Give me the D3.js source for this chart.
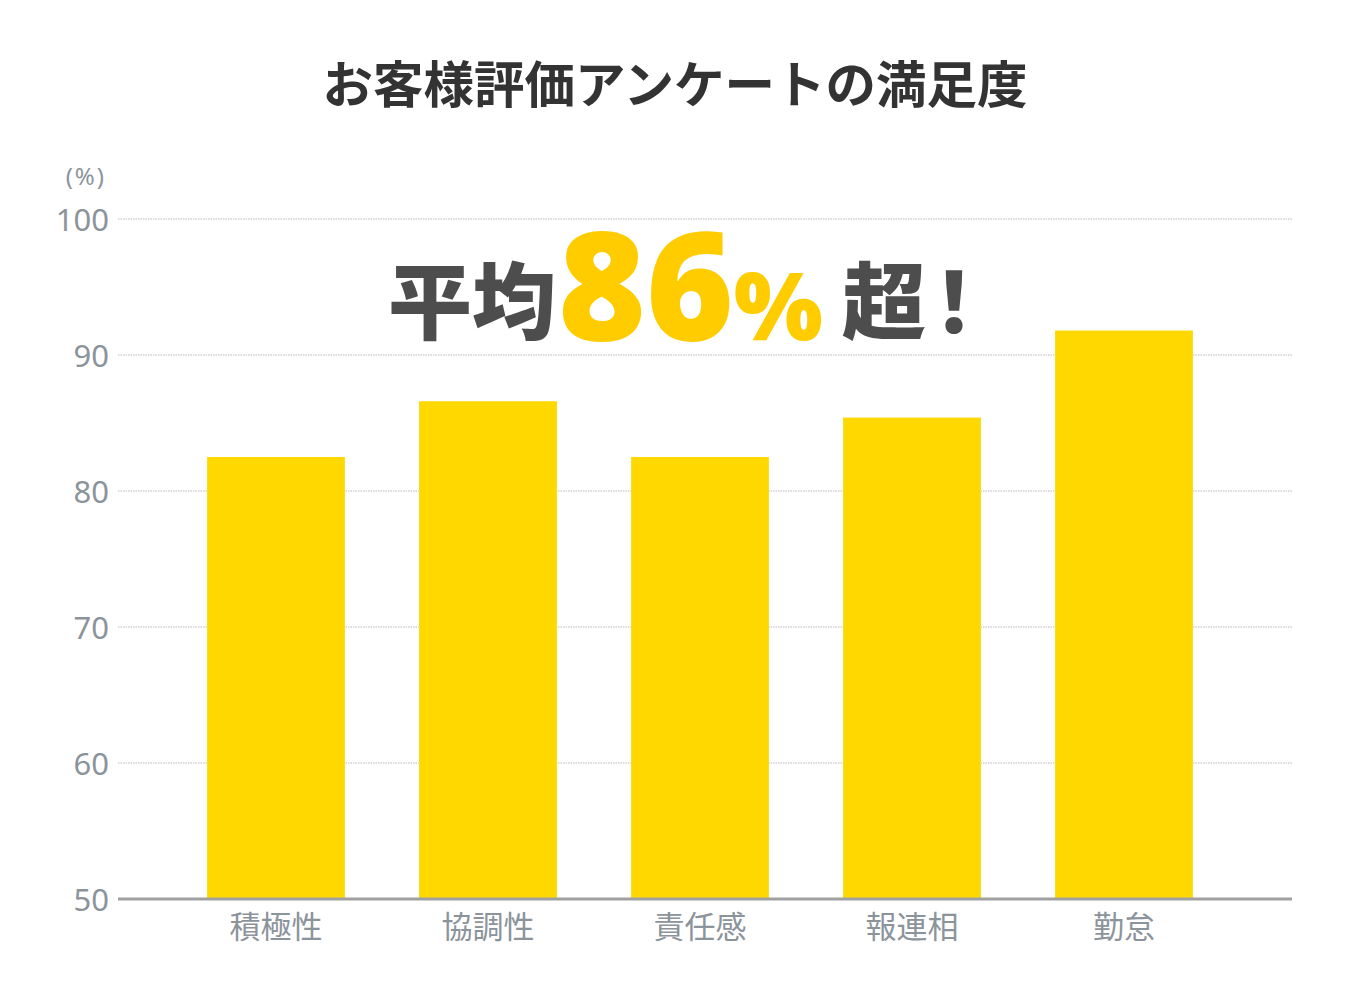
<!DOCTYPE html>
<html><head><meta charset="utf-8">
<script src="https://cdn.jsdelivr.net/npm/d3@7"></script>
<style>
html,body{margin:0;padding:0;background:#fff;}
svg{display:block;}
</style>
</head><body>
<svg id="chart" width="1350" height="1000"></svg>
<script>
const title = "お客様評価アンケートの満足度";
const categories = ["積極性","協調性","責任感","報連相","勤怠"];
const values = [82.5, 86.6, 82.5, 85.4, 91.8];
const yTicks = [50,60,70,80,90,100];
const unitLabel = "(%)";
const calloutParts = [
  {text:"平均", kind:"dark"},
  {text:"86", kind:"big"},
  {text:"%", kind:"pct"},
  {text:"超！", kind:"end"}
];

const svg = d3.select("#chart");
const jp = "'Noto Sans CJK JP','Noto Sans',sans-serif";
const num = "'Noto Sans','Open Sans',sans-serif";

const plotL = 118, plotR = 1292, plotT = 219, plotB = 899;
const y = d3.scaleLinear().domain([50,100]).range([plotB, plotT]);
const x = d3.scaleBand().domain(categories).range([170,1230]).paddingInner(0.35).paddingOuter(0.175);

// title
svg.append("text").attr("x",675).attr("y",103).attr("text-anchor","middle")
  .attr("font-family",jp).attr("font-weight",700).attr("font-size",50.5)
  .attr("fill","#333").text(title);

// grid lines
svg.append("g").selectAll("line").data(yTicks.filter(d=>d>50)).join("line")
  .attr("x1",plotL).attr("x2",plotR).attr("y1",d=>y(d)).attr("y2",d=>y(d))
  .attr("stroke","#b8b8b8").attr("stroke-width",1).attr("stroke-dasharray","1.5,1");

// y axis labels
const yAxis = d3.axisLeft(y).tickValues(yTicks).tickSize(0).tickPadding(0);
const gy = svg.append("g").attr("transform",`translate(109,0)`).call(yAxis);
gy.select(".domain").remove();
gy.selectAll("text").attr("font-family",num).attr("font-size",31).attr("fill","#8c949b")
  .attr("dy","0.36em");

svg.append("text").attr("x",106).attr("y",185).attr("text-anchor","end")
  .attr("font-family",num).attr("font-size",24).attr("letter-spacing",2).attr("fill","#8c949b").text(unitLabel);

// bars
svg.append("g").selectAll("rect").data(values).join("rect")
  .attr("x",(d,i)=>x(categories[i])).attr("width",x.bandwidth())
  .attr("y",d=>y(d)).attr("height",d=>plotB-y(d))
  .attr("fill","#FFD800");

// baseline
svg.append("line").attr("x1",plotL).attr("x2",plotR).attr("y1",plotB).attr("y2",plotB)
  .attr("stroke","#a0a0a0").attr("stroke-width",3);

// x labels
const xAxis = d3.axisBottom(x).tickSize(0).tickPadding(0);
const gx = svg.append("g").attr("transform",`translate(0,${plotB})`).call(xAxis);
gx.select(".domain").remove();
gx.selectAll("text").attr("font-family",jp).attr("font-size",31).attr("fill","#8c949b")
  .attr("y",39).attr("dy",0);

// callout
const styles = {
  dark:{size:84, fill:"#4d4d4d", font:jp, weight:900, dy:-7, ls:0, dx:0},
  big:{size:150, fill:"#FFCC00", font:num, weight:900, dy:0, ls:0, dx:2},
  pct:{size:94, fill:"#FFCC00", font:num, weight:900, dy:0, ls:0, dx:0},
  end:{size:84, fill:"#4d4d4d", font:jp, weight:900, dy:-7, ls:-14, dx:19},
};
const call = svg.append("text").attr("x",388).attr("y",340).attr("text-anchor","start");
let prevDy = 0;
call.selectAll("tspan").data(calloutParts).join("tspan")
  .attr("font-family",d=>styles[d.kind].font)
  .attr("font-size",d=>styles[d.kind].size)
  .attr("font-weight",d=>styles[d.kind].weight)
  .attr("fill",d=>styles[d.kind].fill)
  .attr("letter-spacing",d=>styles[d.kind].ls)
  .attr("dx",d=>styles[d.kind].dx)
  .attr("dy",d=>{ const v = styles[d.kind].dy - prevDy; prevDy = styles[d.kind].dy; return v; })
  .text(d=>d.text);
</script>
</body></html>
